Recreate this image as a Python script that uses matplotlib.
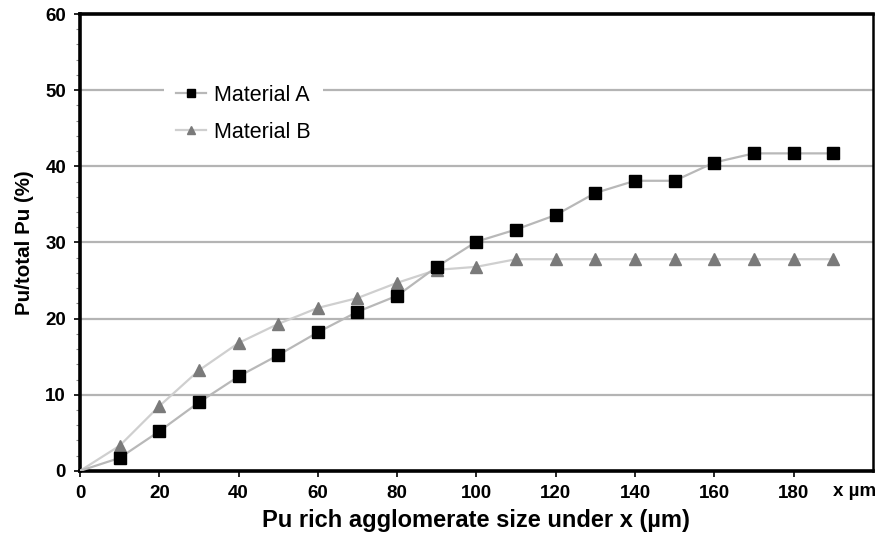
import matplotlib
matplotlib.use("Agg")
import matplotlib.pyplot as plt
from matplotlib.ticker import MultipleLocator

# data
size_um = [0, 10, 20, 30, 40, 50, 60, 70, 80, 90, 100,
           110, 120, 130, 140, 150, 160, 170, 180, 190]
material_a = [0, 1.7, 5.2, 9.0, 12.4, 15.2, 18.2, 20.9, 23.0, 26.8, 30.1,
              31.7, 33.6, 36.5, 38.1, 38.1, 40.5, 41.7, 41.7, 41.7]
material_b = [0, 3.3, 8.5, 13.2, 16.8, 19.3, 21.4, 22.7, 24.7, 26.4, 26.8,
              27.8, 27.8, 27.8, 27.8, 27.8, 27.8, 27.8, 27.8, 27.8]
x_ticks = [0, 20, 40, 60, 80, 100, 120, 140, 160, 180]
y_ticks = [0, 10, 20, 30, 40, 50, 60]

plt.rcParams["font.family"] = ["Liberation Sans", "DejaVu Sans"]

fig = plt.figure(figsize=(8.77, 5.40), dpi=100)
ax = fig.add_axes([0.0912, 0.128, 0.904, 0.846])

for y in y_ticks[1:-1]:
    ax.axhline(y, color="#b4b4b4", lw=1.6, zorder=1)

ax.plot(size_um[1:], material_b[1:], ls="none", marker="^", ms=8,
        color="#7a7a7a", zorder=4)
ax.plot(size_um, material_b, color="#cfcfcf", lw=1.6, zorder=3)
ax.plot(size_um[1:], material_a[1:], ls="none", marker="s", ms=8,
        color="black", zorder=6)
ax.plot(size_um, material_a, color="#b8b8b8", lw=1.6, zorder=5)

# legend handles
ha, = ax.plot([], [], color="#b8b8b8", lw=1.6, marker="s", ms=5.5,
              mfc="black", mec="black", label="Material A")
hb, = ax.plot([], [], color="#cfcfcf", lw=1.6, marker="^", ms=5.5,
              mfc="#7a7a7a", mec="#7a7a7a", label="Material B")
leg = ax.legend(handles=[ha, hb], loc="upper left",
                bbox_to_anchor=(0.092, 0.895), frameon=True, framealpha=1,
                edgecolor="none", fontsize=15.5, handlelength=1.4,
                handletextpad=0.4, labelspacing=0.75, borderpad=0.55)
leg.set_zorder(10)

ax.set_xlim(0, 200)
ax.set_ylim(0, 60)
ax.set_xticks(x_ticks)
ax.set_yticks(y_ticks)
ax.yaxis.set_minor_locator(MultipleLocator(2))
ax.tick_params(axis="both", which="major", direction="out", length=4,
               width=1.2, labelsize=13.5, pad=6)
ax.tick_params(axis="y", which="minor", direction="out", length=3,
               width=0.8, color="#888888")
for lab in ax.get_xticklabels() + ax.get_yticklabels():
    lab.set_fontweight("bold")

for side in ["left", "bottom", "top"]:
    ax.spines[side].set_linewidth(2.6)
ax.spines["right"].set_linewidth(1.8)

fig.text(0.999, 0.089, "x µm", ha="right", va="center", fontsize=13.5,
         fontweight="bold")
ax.set_xlabel("Pu rich agglomerate size under x (µm)", fontsize=17,
              fontweight="bold", labelpad=5)
ax.set_ylabel("Pu/total Pu (%)", fontsize=14.8, fontweight="bold", labelpad=8)

fig.savefig("out.png", dpi=100)
